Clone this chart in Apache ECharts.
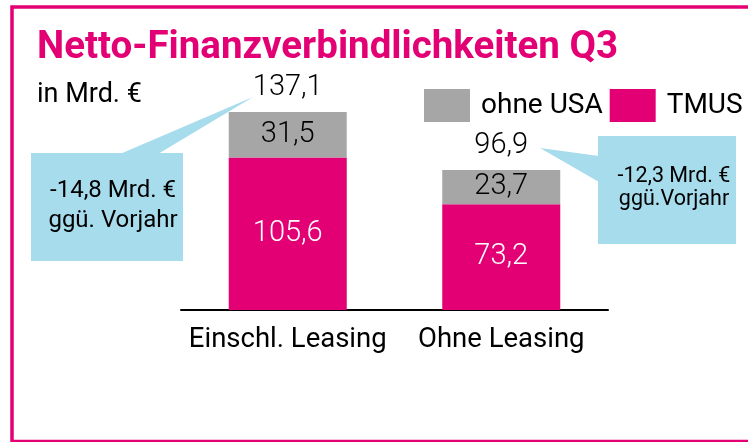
<!DOCTYPE html>
<html>
<head>
<meta charset="utf-8">
<script src="https://cdn.jsdelivr.net/npm/echarts@6/dist/echarts.min.js"></script>
<style>
html,body{margin:0;padding:0;background:#fff;}
#c{width:748px;height:442px;}
</style>
</head>
<body>
<div id="c"></div>
<script>
const categories = ['Einschl. Leasing', 'Ohne Leasing'];
const tmusValues = [105.6, 73.2];
const ohneUsaValues = [31.5, 23.7];
const totalValues = [137.1, 96.9];
const legendNames = ['ohne USA', 'TMUS'];

const PINK = '#e20074';
const GREY = '#a6a6a6';
const BLUE = '#a7dcec';
const FONT = 'Roboto';
const fmt = v => v.toFixed(1).replace('.', ',');

const chart = echarts.init(document.getElementById('c'), null, {renderer: 'canvas'});
chart.setOption({
  backgroundColor: '#fff',
  animation: false,
  grid: {left: 181, right: 140, top: 93.4, bottom: 132},
  legend: {
    data: legendNames,
    left: 419, top: 84,
    icon: 'rect',
    itemWidth: 46, itemHeight: 33, itemGap: 7,
    textStyle: {fontFamily: FONT, fontSize: 28, color: '#000', padding: [0, 0, 0, 6]}
  },
  xAxis: {
    type: 'category',
    data: categories,
    axisLine: {lineStyle: {color: '#000', width: 2}},
    axisTick: {show: false},
    axisLabel: {interval: 0, fontFamily: FONT, fontSize: 27.5, color: '#000', margin: 16}
  },
  yAxis: {type: 'value', min: 0, max: 150, show: false, splitLine: {show: false}},
  series: [
    {
      name: 'TMUS', type: 'bar', stack: 'a', barWidth: 118,
      data: tmusValues,
      itemStyle: {color: PINK},
      label: {show: true, position: 'inside', color: '#fff', fontFamily: FONT, fontWeight: 300, fontSize: 29, formatter: p => fmt(p.value)}
    },
    {
      name: 'ohne USA', type: 'bar', stack: 'a', barWidth: 118,
      data: ohneUsaValues,
      itemStyle: {color: GREY},
      label: {show: true, position: 'inside', color: '#000', fontFamily: FONT, fontWeight: 300, fontSize: 29, formatter: p => fmt(p.value)}
    },
    {
      name: 'Gesamt', type: 'scatter', symbolSize: 0,
      data: totalValues, silent: true, z: 5,
      itemStyle: {opacity: 1, color: '#000'},
      label: {show: true, position: 'top', distance: 10, color: '#000', opacity: 1, fontFamily: FONT, fontWeight: 300, fontSize: 29, formatter: p => fmt(p.value)}
    }
  ],
  graphic: [
    {type: 'rect', shape: {x: 12, y: 7, width: 760, height: 434.5}, style: {fill: 'none', stroke: PINK, lineWidth: 3.5}, z: 0},
    {type: 'text', x: 37, y: 48, style: {text: 'Netto-Finanzverbindlichkeiten Q3', font: 'bold 38.5px Roboto', fill: PINK, textVerticalAlign: 'middle'}},
    {type: 'text', x: 37, y: 95, style: {text: 'in Mrd. €', font: '27px Roboto', fill: '#000', textVerticalAlign: 'middle'}},
    {type: 'rect', shape: {x: 31, y: 153, width: 152, height: 108}, style: {fill: BLUE}},
    {type: 'polygon', shape: {points: [[120, 154], [158, 154], [253, 97]]}, style: {fill: BLUE}},
    {type: 'text', x: 113, y: 191, style: {text: '-14,8 Mrd. €', font: '24px Roboto', fill: '#000', textAlign: 'center', textVerticalAlign: 'middle'}},
    {type: 'text', x: 113, y: 221, style: {text: 'ggü. Vorjahr', font: '24px Roboto', fill: '#000', textAlign: 'center', textVerticalAlign: 'middle'}},
    {type: 'rect', shape: {x: 598, y: 136, width: 138, height: 108}, style: {fill: BLUE}},
    {type: 'polygon', shape: {points: [[599, 156], [599, 182], [540, 148]]}, style: {fill: BLUE}},
    {type: 'text', x: 674, y: 177, style: {text: '-12,3 Mrd. €', font: '21.5px Roboto', fill: '#000', textAlign: 'center', textVerticalAlign: 'middle'}},
    {type: 'text', x: 674, y: 200, style: {text: 'ggü.Vorjahr', font: '21.5px Roboto', fill: '#000', textAlign: 'center', textVerticalAlign: 'middle'}}
  ]
});
</script>
</body>
</html>
